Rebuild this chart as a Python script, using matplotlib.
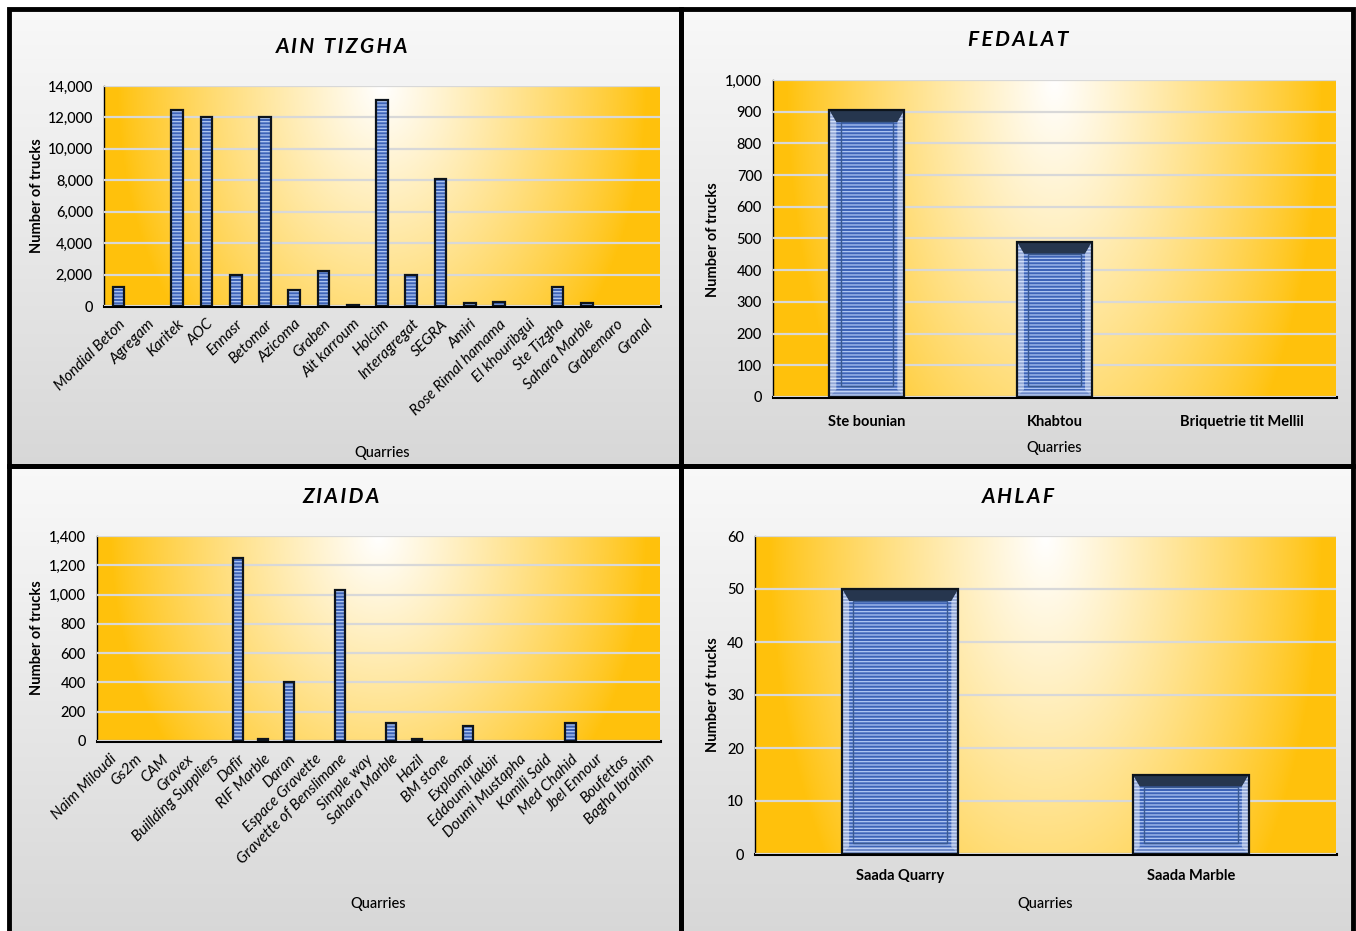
import matplotlib
matplotlib.use("Agg")
import matplotlib.pyplot as plt
from matplotlib.patches import Rectangle, Polygon
from matplotlib.ticker import FuncFormatter, MultipleLocator
import numpy as np

plt.rcParams['font.family'] = ['Lato', 'DejaVu Sans']
plt.rcParams['hatch.linewidth'] = 0.9

# ---- data ----
ain_cats = ["Mondial Beton", "Agregam", "Karitek", "AOC", "Ennasr", "Betomar",
            "Azicoma", "Graben", "Ait karroum", "Holcim", "Interagregat", "SEGRA",
            "Amiri", "Rose Rimal hamama", "El khouribgui", "Ste Tizgha",
            "Sahara Marble", "Grabemaro", "Granal"]
ain_vals = [1200, 0, 12500, 12000, 1950, 12000, 1000, 2200, 80, 13100, 1950,
            8100, 200, 280, 0, 1200, 200, 0, 0]

fed_cats = ["Ste bounian", "Khabtou", "Briquetrie tit Mellil"]
fed_vals = [905, 490, 0]

zia_cats = ["Naim Miloudi", "Gs2m", "CAM", "Gravex", "Buillding Suppliers", "Dafir",
            "RIF Marble", "Daran", "Espace Gravette", "Gravette of Benslimane",
            "Simple way", "Sahara Marble", "Hazil", "BM stone", "Explomar",
            "Eddoumi lakbir", "Doumi Mustapha", "Kamili Said", "Med Chahid",
            "Jbel Ennour", "Boufettas", "Bagha Ibrahim"]
zia_vals = [0, 0, 0, 0, 0, 1250, 15, 400, 0, 1030, 0, 120, 15, 0, 105, 0, 0, 0,
            120, 0, 0, 0]

ahl_cats = ["Saada Quarry", "Saada Marble"]
ahl_vals = [50, 15]

W, H = 1356, 931
fig = plt.figure(figsize=(W / 100, H / 100), dpi=100)
fig.patch.set_facecolor('white')


def fx(x):
    return x / W


def fy(y):
    return 1 - y / H


def panel_bg(x0, y0, x1, y1):
    ax = fig.add_axes([fx(x0), fy(y1), fx(x1 - x0), (y1 - y0) / H], zorder=0)
    g = np.linspace(0.975, 0.845, 200)[:, None]
    img = np.dstack([g, g, g])
    ax.imshow(img, aspect='auto', extent=(0, 1, 0, 1))
    ax.set_axis_off()
    fig.patches.append(Rectangle((fx(x0), fy(y1)), fx(x1 - x0), (y1 - y0) / H,
                                 transform=fig.transFigure, fill=False,
                                 edgecolor='black', linewidth=3.5, zorder=10))


def plot_bg(ax):
    nx, ny = 300, 150
    xx, yy = np.meshgrid(np.linspace(-1, 1, nx), np.linspace(0, 1, ny))
    d = np.sqrt((xx / 0.95) ** 2 + (yy * 0.6) ** 2)
    w = np.clip(1 - d, 0, 1) ** 0.85
    orange = np.array([1.0, 0.76, 0.05])
    img = orange[None, None, :] * (1 - w[..., None]) + w[..., None]
    ax.imshow(img, aspect='auto', extent=(0, 1, 0, 1), transform=ax.transAxes,
              zorder=0)


def bevel(ax, xc, val, bw, px_x, px_y):
    # bevelled frame like the Excel bar style, sized in pixels
    b = 7
    L, R = xc - bw / 2, xc + bw / 2
    bx, by = b * px_x, b * px_y
    top_h = 12 * px_y
    ax.add_patch(Polygon([(L, val), (R, val), (R - bx, val - top_h), (L + bx, val - top_h)],
                         closed=True, facecolor='#26364e', edgecolor='none', zorder=4))
    for side in (L, R):
        sgn = 1 if side == L else -1
        ax.add_patch(Polygon([(side, val), (side + sgn * bx, val - top_h),
                              (side + sgn * bx, by), (side, 0)], closed=True,
                             facecolor='white', alpha=0.45, edgecolor='none', zorder=4))
    ax.add_patch(Polygon([(L, 0), (L + bx, by), (R - bx, by), (R, 0)], closed=True,
                         facecolor='white', alpha=0.25, edgecolor='none', zorder=4))
    ax.add_patch(Rectangle((L + bx * 1.6, by * 1.6), bw - 3.2 * bx,
                           val - top_h - by * 1.6, fill=False,
                           edgecolor='#3a5a92', linewidth=1.0, zorder=4))


def draw(rect, cats, vals, ymax, ystep, rotated, pad):
    x0, y0, x1, y1 = rect
    ax = fig.add_axes([fx(x0), fy(y1), fx(x1 - x0), (y1 - y0) / H], zorder=2)
    plot_bg(ax)
    x = np.arange(len(cats))
    v = np.array(vals, dtype=float)
    keep = v > 0
    bw = 0.4
    ax.bar(x[keep], v[keep], width=bw, color='#3e64b8', edgecolor='#b0c8f4',
           hatch='-----', linewidth=0, zorder=3)
    px_x = len(cats) / (x1 - x0)
    px_y = ymax / (y1 - y0)
    if bw / px_x > 40:
        for xc, val in zip(x[keep], v[keep]):
            bevel(ax, xc, val, bw, px_x, px_y)
    ax.bar(x[keep], v[keep], width=bw, fill=False, edgecolor='#0d141c',
           linewidth=1.6, zorder=5)
    ax.set_xlim(-0.5, len(cats) - 0.5)
    ax.set_ylim(0, ymax)
    ax.yaxis.set_major_locator(MultipleLocator(ystep))
    ax.yaxis.set_major_formatter(FuncFormatter(lambda val, p: f"{val:,.0f}"))
    ax.grid(axis='y', color='#d8d8d8', linewidth=1.6, zorder=1)
    ax.set_axisbelow(False)
    for s in ['top', 'right']:
        ax.spines[s].set_visible(False)
    ax.spines['left'].set_linewidth(1.0)
    ax.spines['bottom'].set_linewidth(2.2)
    ax.tick_params(axis='y', length=0, labelsize=10.5, pad=8)
    ax.tick_params(axis='x', length=0, pad=pad)
    ax.set_xticks(x)
    if rotated:
        ax.set_xticklabels(cats, rotation=45, ha='right', rotation_mode='anchor',
                           fontstyle='italic', fontsize=11)
    else:
        ax.set_xticklabels(cats, fontsize=10.5, fontweight='bold')
    for t in ax.get_yticklabels():
        t.set_fontweight('medium')
    return ax


panel_bg(9, 9, 681, 466)
panel_bg(681, 9, 1353, 466)
panel_bg(9, 466, 681, 935)
panel_bg(681, 466, 1353, 935)

draw((104, 86, 660, 306), ain_cats, ain_vals, 14000, 2000, True, 8)
draw((773, 80, 1336, 397), fed_cats, fed_vals, 1000, 100, False, 13)
draw((97, 536, 660, 741), zia_cats, zia_vals, 1400, 200, True, 8)
draw((755, 536, 1336, 854), ahl_cats, ahl_vals, 60, 10, False, 11)


def spaced(s):
    return '\u2009'.join(s)


title_kw = dict(ha='center', va='center', fontsize=15, fontweight='bold',
                fontstyle='italic')
fig.text(fx(342), fy(47), spaced("AIN TIZGHA"), **title_kw)
fig.text(fx(1018), fy(40), spaced("FEDALAT"), **title_kw)
fig.text(fx(341), fy(497), spaced("ZIAIDA"), **title_kw)
fig.text(fx(1018), fy(497), spaced("AHLAF"), **title_kw)

ylab_kw = dict(ha='center', va='center', rotation=90, fontsize=10.5,
               fontweight='bold')
fig.text(fx(37), fy(196), "Number of trucks", **ylab_kw)
fig.text(fx(713), fy(240), "Number of trucks", **ylab_kw)
fig.text(fx(37), fy(638), "Number of trucks", **ylab_kw)
fig.text(fx(713), fy(695), "Number of trucks", **ylab_kw)

xlab_kw = dict(ha='center', va='center', fontsize=10.5, fontweight='medium')
fig.text(fx(382), fy(453), "Quarries", **xlab_kw)
fig.text(fx(1054), fy(448), "Quarries", **xlab_kw)
fig.text(fx(378), fy(904), "Quarries", **xlab_kw)
fig.text(fx(1045), fy(904), "Quarries", **xlab_kw)

fig.savefig("out.png", dpi=100)
